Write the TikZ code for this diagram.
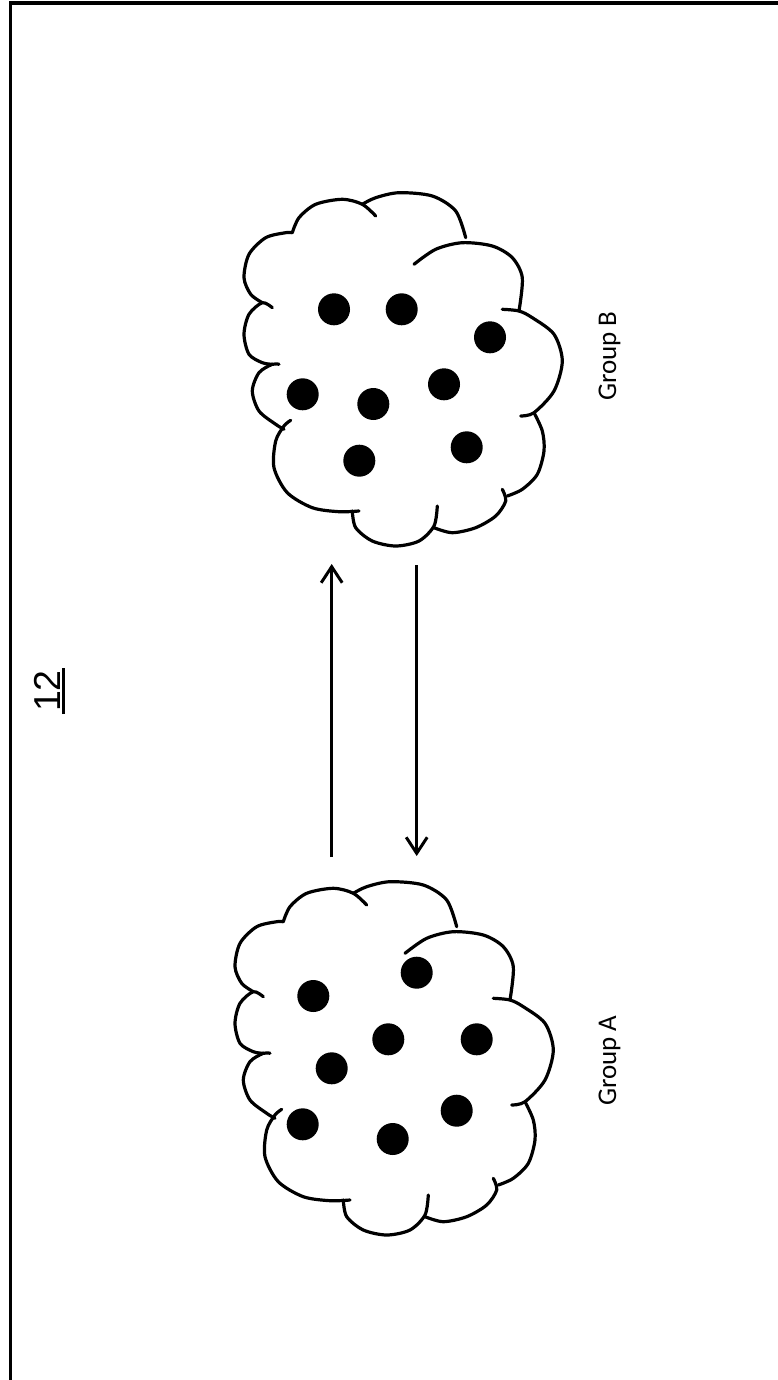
\documentclass[tikz,border=0pt]{standalone}
\usepackage{fontspec}
\newfontfamily\carl{Carlito}
\newfontfamily\libsans{Liberation Sans}
\usetikzlibrary{arrows.meta}
\tikzset{
  outline/.style={line width=3.2pt, line cap=round, line join=round},
  dotnode/.style={circle, fill=black, inner sep=0pt, minimum size=32pt},
  arr/.style={line width=3pt, -{Straight Barb[length=16pt,width=21pt,line width=3pt]}},
  grouplabel/.style={rotate=90, anchor=base, inner sep=0pt, font=\carl\fontsize{27}{30}\selectfont},
  cloudshape/.pic={
    \draw[outline] plot[smooth] coordinates {(283.3,921.7) (290,906.7) (306.7,893.3) (333.3,888.3) (353.3,893.3) (366.7,905)};
    \draw[outline] plot[smooth] coordinates {(353.3,893.3) (366.7,886.7) (390,881.7) (423.3,885) (446.7,900) (456.7,926.7)};
    \draw[outline] plot[smooth] coordinates {(405,953.3) (426.7,938.3) (453.3,931.7) (483.3,935) (503.3,946.7) (513.3,966.7) (510,1000)};
    \draw[outline] plot[smooth] coordinates {(493.3,998.3) (510,1000) (523.3,1006.7) (545,1023.3) (553.3,1050) (545,1080) (525,1101.7) (511.7,1105)};
    \draw[outline] plot[smooth] coordinates {(525,1101.7) (533.3,1120) (535,1140) (528.3,1163.3) (513.3,1178.3) (498.3,1185)};
    \draw[outline] plot[smooth] coordinates {(493.3,1178.3) (496.7,1190) (486.7,1205) (466.7,1216.7) (443.3,1221.7) (425,1216.7)};
    \draw[outline] plot[smooth] coordinates {(428.3,1195) (425,1215) (410,1230) (386.7,1235) (363.3,1230) (346.7,1216.7) (343.3,1200)};
    \draw[outline] plot[smooth] coordinates {(350,1200) (330,1200.7) (303.3,1196.7) (278.3,1181.7) (265,1156.7) (266.7,1130) (275,1115) (281.7,1109.3)};
    \draw[outline] plot[smooth] coordinates {(275,1118.3) (266.7,1113.3) (250,1100) (243.3,1080) (250,1061.7) (263.3,1053.3) (270,1053.3)};
    \draw[outline] plot[smooth] coordinates {(263.3,1053.3) (253.3,1051.7) (240,1043.3) (235,1023.3) (240,1003.3) (253.3,991.7) (263.3,996.7)};
    \draw[outline] plot[smooth] coordinates {(253.3,991.7) (241.7,983.3) (235,966.7) (240,943.3) (256.7,926.7) (276.7,921.7) (283.3,921.7)};
  }
}
\begin{document}
\begin{tikzpicture}[x=1pt,y=-1pt]
\useasboundingbox (0,0) rectangle (778,1380);
% frame
\draw[line width=3.5pt] (10.7,1380) -- (10.7,2.8) -- (778,2.8);
% title
\node[rotate=90, inner sep=0pt, font=\libsans\fontsize{37.5}{40}\selectfont] (t12) at (47,691) {12};
\path (t12.south west) ++(3,2) coordinate (u1);
\path (t12.south east) ++(3,-2) coordinate (u2);
\draw[line width=3pt] (u1) -- (u2);
% clouds
\pic at (0,0) {cloudshape};
\pic at (9,-689) {cloudshape};
% group A dots
\node[dotnode] (a1) at (416.7,972.7) {};
\node[dotnode] (a2) at (313.3,996) {};
\node[dotnode] (a3) at (388.3,1039.3) {};
\node[dotnode] (a4) at (476.7,1039.3) {};
\node[dotnode] (a5) at (331.7,1068.3) {};
\node[dotnode] (a6) at (456.7,1110.7) {};
\node[dotnode] (a7) at (302.7,1124.3) {};
\node[dotnode] (a8) at (392.7,1139) {};
% group B dots
\node[dotnode] (b1) at (334,309.3) {};
\node[dotnode] (b2) at (401.7,309.3) {};
\node[dotnode] (b3) at (490,337.3) {};
\node[dotnode] (b4) at (302.7,394.3) {};
\node[dotnode] (b5) at (373.3,404) {};
\node[dotnode] (b6) at (444,384.3) {};
\node[dotnode] (b7) at (359.3,460.7) {};
\node[dotnode] (b8) at (466.7,447.3) {};
% labels
\node[grouplabel] (la) at (616,1060.5) {Group A};
\node[grouplabel] (lb) at (616,356) {Group B};
% arrows
\coordinate (p1) at (331.7,857);
\coordinate (p2) at (331.7,564);
\coordinate (q1) at (416.7,565);
\coordinate (q2) at (416.7,856);
\draw[arr] (p1) -- (p2);
\draw[arr] (q1) -- (q2);
\end{tikzpicture}
\end{document}
